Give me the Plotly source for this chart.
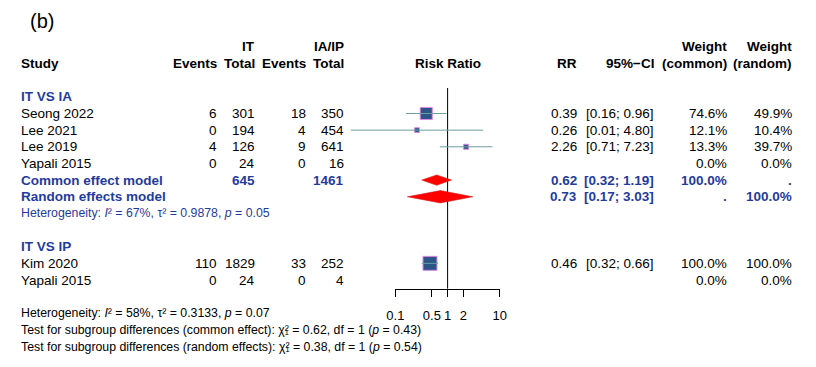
import math
import plotly.graph_objects as go

# page has an 8px body margin: figure is drawn 8px in from the top-left corner
OFF = 8
W, H = 816 - OFF, 367 - OFF

# ---------------- data ----------------
panel_label = "(b)"

group1_label = "IT VS IA"
g1_studies = ["Seong 2022", "Lee 2021", "Lee 2019", "Yapali 2015"]
g1_it_events = [6, 0, 4, 0]
g1_it_total = [301, 194, 126, 24]
g1_ct_events = [18, 4, 9, 0]
g1_ct_total = [350, 454, 641, 16]
g1_rr = [0.39, 0.26, 2.26, None]
g1_lo = [0.16, 0.014, 0.71, None]
g1_hi = [0.96, 4.80, 7.23, None]
g1_ci_text = ["[0.16; 0.96]", "[0.01; 4.80]", "[0.71; 7.23]", ""]
g1_w_common = [74.6, 12.1, 13.3, 0.0]
g1_w_random = [49.9, 10.4, 39.7, 0.0]

g1_common = [0.62, 0.32, 1.19]      # RR, lower, upper
g1_random = [0.73, 0.17, 3.03]
g1_common_text = ["0.62", "[0.32; 1.19]", "100.0%", "."]
g1_random_text = ["0.73", "[0.17; 3.03]", ".", "100.0%"]
g1_it_sum, g1_ct_sum = 645, 1461
g1_het = "Heterogeneity: <i>I</i>\u00b2 = 67%, τ\u00b2 = 0.9878, <i>p</i> = 0.05"

group2_label = "IT VS IP"
g2_studies = ["Kim 2020", "Yapali 2015"]
g2_it_events = [110, 0]
g2_it_total = [1829, 24]
g2_ct_events = [33, 0]
g2_ct_total = [252, 4]
g2_rr = [0.46, None]
g2_lo = [0.32, None]
g2_hi = [0.66, None]
g2_ci_text = ["[0.32; 0.66]", ""]
g2_w_common = [100.0, 0.0]
g2_w_random = [100.0, 0.0]

overall_het = "Heterogeneity: <i>I</i>\u00b2 = 58%, τ\u00b2 = 0.3133, <i>p</i> = 0.07"
chi_sym = "χ<span style='letter-spacing:-4.1px'>\u00b2</span>\u2081"
test_common = "Test for subgroup differences (common effect): " + chi_sym + " = 0.62, df = 1 (<i>p</i> = 0.43)"
test_random = "Test for subgroup differences (random effects): " + chi_sym + " = 0.38, df = 1 (<i>p</i> = 0.54)"

tick_vals = [0.1, 0.5, 1, 2, 10]
tick_text = ["0.1", "0.5", "1", "2", "10"]

# ---------------- layout constants (reference pixel coordinates) ----------------
FONT = "Liberation Sans, Arial, sans-serif"
FS = 13.5
FS_SMALL = 12.3
BLUE = "#1f3c9c"
SQ_FILL = "#2b5687"
SQ_EDGE = "#e08ae6"
CI_COL = "#6c9e9f"

ROW0 = 46.9       # pixel y of row 0
ROWH = 16.65      # pixels per row
X_ONE = 447.3     # pixel x of RR = 1
PPD = 53.3        # pixels per decade
AXIS_Y = 289      # pixel y of the RR axis line

COL_STUDY = 12
COL_ITE, COL_ITT, COL_CTE, COL_CTT = 211.7, 250.8, 303.3, 341.8
COL_RR, COL_CI, COL_WC, COL_WR = 579.3, 658.0, 732.3, 798.3


def px(x):
    return (x - OFF) / W


def py(y):
    return 1 - (y - OFF) / H


fig = go.Figure()
ann = []


def txt(x, row, s, anchor="left", bold=False, color="black", size=FS):
    if bold:
        s = "<b>" + s + "</b>"
    ann.append(dict(x=px(x), xref="paper", y=row, yref="y", text=s, showarrow=False,
                    xanchor=anchor, yanchor="middle", align=anchor,
                    borderpad=0, borderwidth=0,
                    font=dict(family=FONT, size=size, color=color)))


def fmt_rr(v):
    return "" if v is None else f"{v:.2f}"


def fmt_w(v):
    return f"{v:.1f}%"


# headers
txt(COL_ITT, 0, "IT", "right", True)
txt(COL_CTT, 0, "IA/IP", "right", True)
txt(COL_WC, 0, "Weight", "right", True)
txt(COL_WR, 0, "Weight", "right", True)
txt(COL_STUDY, 1, "Study", "left", True)
txt(COL_ITE, 1, "Events", "right", True)
txt(COL_ITT, 1, "Total", "right", True)
txt(COL_CTE, 1, "Events", "right", True)
txt(COL_CTT, 1, "Total", "right", True)
txt(X_ONE, 1, "Risk Ratio", "center", True)
txt(COL_RR, 1, "RR", "right", True)
txt(COL_CI, 1, "95%\u2212CI", "right", True)
txt(COL_WC, 1, "(common)", "right", True)
txt(COL_WR, 1, "(random)", "right", True)

sq_x, sq_y, sq_s = [], [], []
ci_x, ci_y = [], []


def study_rows(start, studies, ite, itt, cte, ctt, rr, lo, hi, citext, wc, wr):
    for i, name in enumerate(studies):
        r = start + i
        txt(COL_STUDY, r, name)
        txt(COL_ITE, r, str(ite[i]), "right")
        txt(COL_ITT, r, str(itt[i]), "right")
        txt(COL_CTE, r, str(cte[i]), "right")
        txt(COL_CTT, r, str(ctt[i]), "right")
        if rr[i] is not None:
            txt(COL_RR, r, fmt_rr(rr[i]), "right")
            txt(COL_CI, r, citext[i], "right")
        txt(COL_WC, r, fmt_w(wc[i]), "right")
        txt(COL_WR, r, fmt_w(wr[i]), "right")
        if rr[i] is not None:
            sq_x.append(rr[i])
            sq_y.append(r)
            sq_s.append(max(4.5, 14 * math.sqrt(wc[i] / 100)))
            ci_x.extend([lo[i], hi[i], None])
            ci_y.extend([r, r, None])


# group 1
txt(COL_STUDY, 3, group1_label, "left", True, BLUE)
study_rows(4, g1_studies, g1_it_events, g1_it_total, g1_ct_events, g1_ct_total,
           g1_rr, g1_lo, g1_hi, g1_ci_text, g1_w_common, g1_w_random)
r_common = 4 + len(g1_studies)
r_random = r_common + 1
txt(COL_STUDY, r_common, "Common effect model", "left", True, BLUE)
txt(COL_ITT, r_common, str(g1_it_sum), "right", True, BLUE)
txt(COL_CTT, r_common, str(g1_ct_sum), "right", True, BLUE)
for col, s in zip([COL_RR, COL_CI, COL_WC, COL_WR], g1_common_text):
    txt(col, r_common, s, "right", True, BLUE)
txt(COL_STUDY, r_random, "Random effects model", "left", True, BLUE)
for col, s in zip([COL_RR, COL_CI, COL_WC, COL_WR], g1_random_text):
    txt(col, r_random, s, "right", True, BLUE)
txt(COL_STUDY, r_random + 1, g1_het, "left", False, BLUE, FS_SMALL)

# group 2
r_g2 = r_random + 3
txt(COL_STUDY, r_g2, group2_label, "left", True, BLUE)
study_rows(r_g2 + 1, g2_studies, g2_it_events, g2_it_total, g2_ct_events, g2_ct_total,
           g2_rr, g2_lo, g2_hi, g2_ci_text, g2_w_common, g2_w_random)
r_end = r_g2 + len(g2_studies)

# bottom text
r_het = r_end + 2
txt(COL_STUDY, r_het, overall_het, "left", False, "black", FS_SMALL)
txt(COL_STUDY, r_het + 1, test_common, "left", False, "black", FS_SMALL)
txt(COL_STUDY, r_het + 2, test_random, "left", False, "black", FS_SMALL)

# panel label
ann.append(dict(x=px(21), xref="paper", y=py(21), yref="paper", text=panel_label,
                showarrow=False, xanchor="left", yanchor="middle",
                borderpad=0, borderwidth=0,
                font=dict(family=FONT, size=20, color="black")))

# reference line at RR = 1
fig.add_trace(go.Scatter(x=[1, 1], y=[2.47, r_end + 0.52], mode="lines",
                         line=dict(color="black", width=1), hoverinfo="skip", showlegend=False))

# pooled-estimate diamonds
for est, r, h in [(g1_common, r_common, 0.31), (g1_random, r_random, 0.37)]:
    rr, lo, hi = est
    fig.add_trace(go.Scatter(x=[lo, rr, hi, rr, lo], y=[r, r - h, r, r + h, r], mode="lines",
                             fill="toself", fillcolor="#ff0000",
                             line=dict(color="#d02020", width=0.6),
                             hoverinfo="skip", showlegend=False))

# study squares
fig.add_trace(go.Scatter(x=sq_x, y=sq_y, mode="markers",
                         marker=dict(symbol="square", size=sq_s, color=SQ_FILL, opacity=1,
                                     line=dict(color=SQ_EDGE, width=1)),
                         hoverinfo="skip", showlegend=False))
# CI lines
fig.add_trace(go.Scatter(x=ci_x, y=ci_y, mode="lines", line=dict(color=CI_COL, width=1),
                         hoverinfo="skip", showlegend=False))

# invisible trace so that the RR axis subplot is drawn
fig.add_trace(go.Scatter(x=[1], y=[0], xaxis="x2", yaxis="y2", mode="markers",
                         marker=dict(opacity=0), hoverinfo="skip", showlegend=False))

x_min_log = (OFF - X_ONE) / PPD
x_max_log = (OFF + W - X_ONE) / PPD
y_top = (OFF - ROW0) / ROWH
y_bot = (OFF + H - ROW0) / ROWH

fig.update_layout(
    width=W, height=H, margin=dict(l=0, r=0, t=0, b=0),
    paper_bgcolor="white", plot_bgcolor="rgba(0,0,0,0)",
    font=dict(family=FONT, size=FS, color="black"),
    xaxis=dict(type="log", range=[x_min_log, x_max_log], domain=[0, 1], visible=False),
    yaxis=dict(range=[y_bot, y_top], domain=[0, 1], visible=False),
    xaxis2=dict(type="log", range=[-1, 1],
                domain=[px(X_ONE - PPD), px(X_ONE + PPD)], anchor="y2",
                showline=True, linecolor="black", linewidth=1, ticks="outside",
                ticklen=7, tickwidth=1, tickcolor="black", tickvals=tick_vals,
                ticktext=tick_text, showgrid=False, zeroline=False,
                tickfont=dict(family=FONT, size=13, color="black"),
                ticklabelstandoff=7),
    yaxis2=dict(domain=[py(AXIS_Y), 1], range=[0, 1], visible=False),
    annotations=ann,
    showlegend=False,
)

fig.write_html("out.html")
